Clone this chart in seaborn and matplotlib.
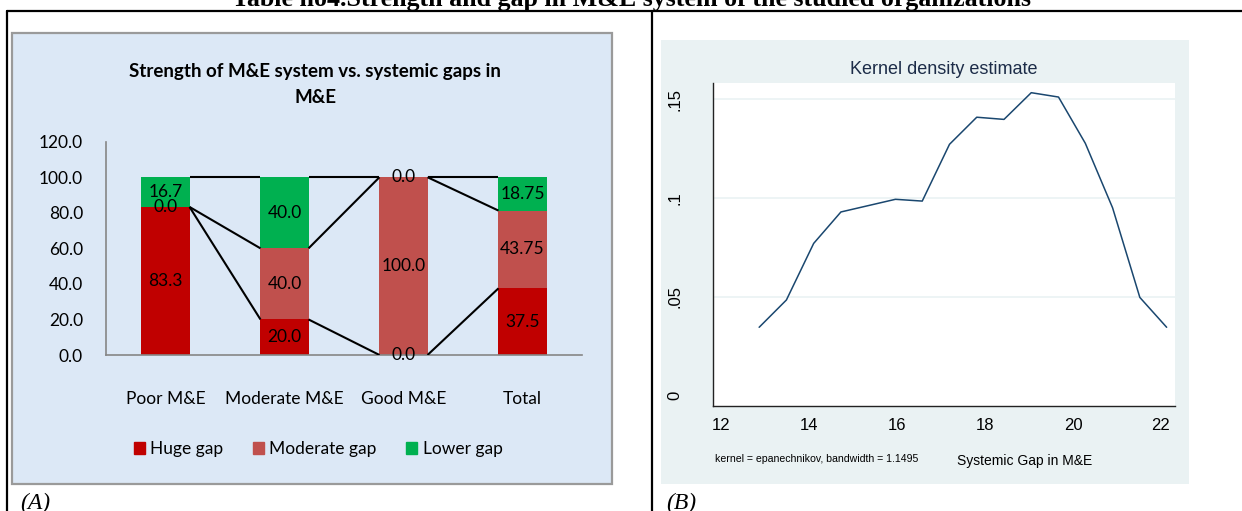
import numpy as np
import pandas as pd
import seaborn as sns
import matplotlib.pyplot as plt
from matplotlib.patches import Rectangle, Patch
from matplotlib.lines import Line2D

# --- data: panel A (Excel stacked bars) ---
categories = ["Poor M&E", "Moderate M&E", "Good M&E", "Total"]
huge_gap = [83.3, 20.0, 0.0, 37.5]
moderate_gap = [0.0, 40.0, 100.0, 43.75]
lower_gap = [16.7, 40.0, 0.0, 18.75]
label_fmt = ["{:.1f}", "{:.1f}", "{:.1f}", "{:g}"]
y_ticks_a = [0, 20, 40, 60, 80, 100, 120]

# --- data: panel B (kernel density) ---
gap_x = [12.86, 13.48, 14.10, 14.72, 15.34, 15.96, 16.57, 17.19,
         17.81, 18.43, 19.05, 19.67, 20.28, 20.90, 21.52, 22.13]
density = [0.0346, 0.0484, 0.0770, 0.0929, 0.0961, 0.0993, 0.0984, 0.1271,
           0.1408, 0.1397, 0.1532, 0.1510, 0.1276, 0.0950, 0.0497, 0.0346]
x_ticks_b = [12, 14, 16, 18, 20, 22]
y_ticks_b = [0, 0.05, 0.1, 0.15]
y_labels_b = ["0", ".05", ".1", ".15"]

W, H = 1242, 511
HUGE, MODER, LOWER = "#C00000", "#C0504D", "#00B050"

sns.set_style("white")
plt.rcParams["font.family"] = ["Lato", "DejaVu Sans"]
plt.rcParams["text.color"] = "black"
plt.rcParams["xtick.color"] = "black"
plt.rcParams["ytick.color"] = "black"


def fx(x):
    return x / W


def fy(y):
    return 1 - y / H


def rect(l, t, r, b):
    return [fx(l), fy(b), (r - l) / W, (b - t) / H]


fig = plt.figure(figsize=(W / 100, H / 100), dpi=100)
fig.patch.set_facecolor("white")

# table frame
for xs, ys in [((7, W), (11, 11)), ((7, 7), (11, H)), ((652, 652), (11, H))]:
    fig.add_artist(Line2D([fx(v) for v in xs], [fy(v) for v in ys],
                          color="black", lw=1.6, transform=fig.transFigure))

fig.text(fx(632), fy(6), "Table no4.Strength and gap in M&E system of the studied organizations",
         family="Liberation Serif", weight="bold", fontsize=18.7, ha="center", va="baseline")

# ================= panel A =================
fig.add_artist(Rectangle((fx(12), fy(484)), 600 / W, 451 / H, transform=fig.transFigure,
                         facecolor="#DCE8F6", edgecolor="#9A9A9A", lw=1.6, zorder=-5))

df = pd.DataFrame({"category": categories, "huge": huge_gap,
                   "moderate": moderate_gap, "lower": lower_gap})
df["c1"] = df["huge"]
df["c2"] = df["huge"] + df["moderate"]
df["c3"] = df["c2"] + df["lower"]

axA = fig.add_axes(rect(106, 141.7, 582, 355))
axA.patch.set_alpha(0)
bw = 0.404
for col, colour in [("c3", LOWER), ("c2", MODER), ("c1", HUGE)]:
    sns.barplot(data=df, x="category", y=col, color=colour, width=bw, saturation=1,
                linewidth=0, edgecolor="none", ax=axA)

# series lines between bars
for col in ["c1", "c2", "c3"]:
    vals = df[col].values
    for i in range(len(vals) - 1):
        axA.plot([i + bw / 2, i + 1 - bw / 2], [vals[i], vals[i + 1]],
                 color="black", lw=1.5, solid_capstyle="butt", zorder=3)

# data labels
for i in range(len(categories)):
    fmt = label_fmt[i]
    segs = [(0, df["huge"][i]), (df["c1"][i], df["moderate"][i]), (df["c2"][i], df["lower"][i])]
    for bottom, v in segs:
        axA.text(i, bottom + v / 2, fmt.format(v), ha="center", va="center",
                 fontsize=12.5, color="black", zorder=4)

axA.set_xlim(-0.5, 3.5)
axA.set_ylim(0, 120)
axA.set_yticks(y_ticks_a)
axA.set_yticklabels([f"{v:.1f}" for v in y_ticks_a])
axA.set_xlabel("")
axA.set_ylabel("")
for s in ["top", "right"]:
    axA.spines[s].set_visible(False)
for s in ["left", "bottom"]:
    axA.spines[s].set_color("#868686")
    axA.spines[s].set_linewidth(1.2)
axA.tick_params(axis="y", direction="out", length=4.5, width=1, color="#868686",
                labelcolor="black", pad=12, labelsize=12.5)
axA.tick_params(axis="x", length=0, pad=26, labelsize=12.5, labelcolor="black")

fig.text(fx(315), fy(77), "Strength of M&E system vs. systemic gaps in",
         fontsize=13.5, weight="bold", ha="center", va="baseline")
fig.text(fx(316), fy(103), "M&E", fontsize=13.5, weight="bold", ha="center", va="baseline")

handles = [Patch(color=HUGE, label="Huge gap"), Patch(color=MODER, label="Moderate gap"),
           Patch(color=LOWER, label="Lower gap")]
fig.legend(handles=handles, loc="center", bbox_to_anchor=(fx(318), fy(449)), ncol=3,
           frameon=False, fontsize=12.5, handlelength=0.65, handleheight=0.65,
           handletextpad=0.3, columnspacing=1.7, labelcolor="black")

fig.text(fx(20), fy(509), "(A)", family="Liberation Serif", style="italic",
         fontsize=17, ha="left", va="baseline")

# ================= panel B =================
fig.add_artist(Rectangle((fx(661), fy(484)), 528 / W, 444 / H, transform=fig.transFigure,
                         facecolor="#EAF2F3", edgecolor="none", zorder=-5))

axB = fig.add_axes(rect(713, 83, 1175, 406))
axB.set_facecolor("white")
for yv in y_ticks_b[1:]:
    axB.axhline(yv, color="#EAF2F3", lw=1.2, zorder=0)
sns.lineplot(x=gap_x, y=density, color="#1A476F", lw=1.1, ax=axB, zorder=2)
axB.set_xlim(11.81, 22.32)
axB.set_ylim(-0.0052, 0.1581)
axB.set_xticks(x_ticks_b)
axB.set_yticks(y_ticks_b)
axB.set_yticklabels(y_labels_b, rotation=90, va="center",
                    family=["Liberation Sans", "DejaVu Sans"])
axB.set_xticklabels([str(v) for v in x_ticks_b], family=["Liberation Sans", "DejaVu Sans"])
for s in ["top", "right"]:
    axB.spines[s].set_visible(False)
for s in ["left", "bottom"]:
    axB.spines[s].set_color("#222222")
    axB.spines[s].set_linewidth(1.0)
axB.tick_params(axis="y", direction="out", length=4, width=1, color="#222222",
                pad=18, labelsize=12)
axB.tick_params(axis="x", direction="out", length=4, width=1, color="#222222",
                pad=5, labelsize=12)

fig.text(fx(944), fy(70), "Kernel density estimate", family=["Liberation Sans", "DejaVu Sans"],
         fontsize=13, color="#1C2C48", ha="center", va="center")
fig.text(fx(715), fy(459), "kernel = epanechnikov, bandwidth = 1.1495",
         family=["Liberation Sans", "DejaVu Sans"], fontsize=7.6, ha="left", va="center")
fig.text(fx(957), fy(461), "Systemic Gap in M&E", family=["Liberation Sans", "DejaVu Sans"],
         fontsize=10, ha="left", va="center")

fig.text(fx(666), fy(509), "(B)", family="Liberation Serif", style="italic",
         fontsize=17, ha="left", va="baseline")

fig.savefig("out.png", dpi=100)
